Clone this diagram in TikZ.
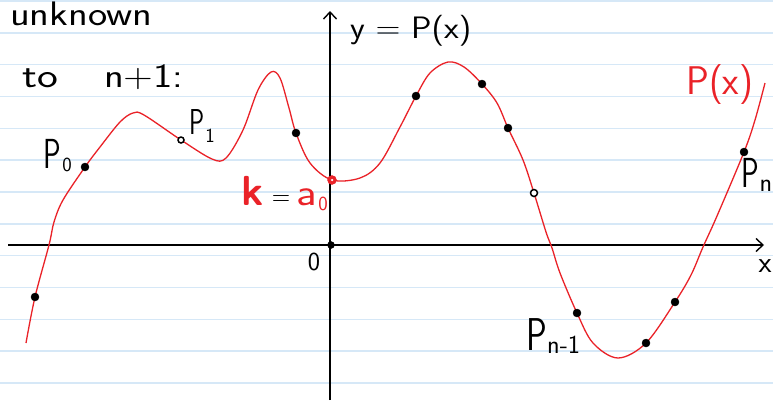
\documentclass[tikz,border=0pt]{standalone}
\usetikzlibrary{arrows.meta}
\definecolor{rule}{RGB}{214,232,247}
\definecolor{curvered}{RGB}{234,34,40}
\newcommand{\hwtext}[3]{\scalebox{#1}[1]{\fontsize{#2}{#2}\selectfont\sffamily #3}}
\tikzset{
  ruleline/.style={rule, line width=1.6pt},
  axisline/.style={black, line width=1.6pt, -{Straight Barb[length=7pt,width=13pt,line width=1.4pt]}},
  polycurve/.style={curvered, line width=1.3pt},
  dotmark/.style={circle, fill=black, draw=black, inner sep=0pt, minimum size=8pt},
  smalldot/.style={circle, fill=white, draw=black, line width=1.5pt, inner sep=0pt, minimum size=6pt},
  reddot/.style={circle, fill=curvered, draw=curvered, inner sep=0pt, minimum size=9pt},
  redcore/.style={circle, fill=white, inner sep=0pt, minimum size=2.5pt},
  lbl/.style={inner sep=0pt, anchor=center, text=black},
  rlbl/.style={inner sep=0pt, anchor=center, text=curvered},
}
\begin{document}
\begin{tikzpicture}[x=1pt,y=-1pt]
\useasboundingbox (0,0) rectangle (773,402);
\fill[white] (0,0) rectangle (773,402);
% ruled paper
\foreach \k in {0,...,12}{
  \draw[ruleline] (0,{1+31.83*\k}) -- (773,{1+31.83*\k});
}
% axes
\coordinate (xs) at (8,245);
\coordinate (xe) at (764,245);
\coordinate (ys) at (330,400);
\coordinate (ye) at (330,11);
\draw[axisline] (xs) -- (xe);
\draw[axisline] (ys) -- (ye);
% curve
\draw[polycurve] plot[smooth, tension=0.55] coordinates {
 (26,343) (35,297) (49,245) (54,222) (63,200) (85,167) (100,147) (120,122)
 (133,113) (144,115) (181,140) (212,159) (226,158) (243,130) (258,90) (271,72)
 (280,78) (289,108) (296,133) (310,163) (332,180) (360,178) (380,163) (400,127)
 (416,96) (430,73) (448,62) (464,67) (482,84) (497,103) (508,128) (523,160)
 (534,193) (546,232) (552,248) (560,273) (577,313) (593,343) (618,358) (646,343)
 (675,302) (691,275) (703,247) (717,216) (744,152) (755,120) (765,83)};
% points
\node[dotmark] (d1) at (35,297) {};
\node[dotmark] (p0) at (85,167) {};
\node[smalldot] (p1) at (181,140) {};
\node[dotmark] (d2) at (296,133) {};
\node[reddot] (k0) at (332,180) {};
\node[redcore] (k0c) at (332,180) {};
\node[dotmark, minimum size=7pt] (o) at (331,245) {};
\node[dotmark] (d3) at (416,96) {};
\node[dotmark] (d4) at (482,84) {};
\node[dotmark] (d5) at (508,128) {};
\node[smalldot, minimum size=7pt] (d6) at (534,193) {};
\node[dotmark] (pn1) at (577,313) {};
\node[dotmark] (d7) at (646,343) {};
\node[dotmark] (d8) at (675,302) {};
\node[dotmark] (pn) at (744,152) {};
% texts
\node[lbl, anchor=base west] (t1) at (10,25) {\hwtext{1.2}{34}{unknown}};
\node[lbl, anchor=base west] (t2) at (22,87) {\hwtext{1.3}{34}{to}};
\node[lbl, anchor=base west] (t3) at (104,87) {\hwtext{1.2}{34}{n+1:}};
\node[lbl, anchor=base west] (t4) at (350,38) {\hwtext{1.1}{31}{y = P(x)}};
\node[rlbl, anchor=base west] (t5) at (686,94) {\hwtext{0.95}{40}{P(x)}};
% P0
\node[lbl, anchor=base] (lp0) at (52,168) {\hwtext{0.7}{42}{P}};
\node[lbl, anchor=base] (lp0s) at (67,171) {\hwtext{1.0}{20}{0}};
% P1
\node[lbl, anchor=base] (lp1) at (197,134) {\hwtext{0.7}{36}{P}};
\node[lbl, anchor=base] (lp1s) at (210,142) {\hwtext{1.0}{20}{1}};
% k = a0
\node[rlbl, anchor=base] (lk) at (253,205) {\hwtext{1.0}{42}{\bfseries k}};
\node[lbl, anchor=base] (leq) at (281,205) {\hwtext{0.9}{28}{=}};
\node[rlbl, anchor=base] (la) at (307,205) {\hwtext{1.2}{38}{a}};
\node[rlbl, anchor=base] (las) at (323,210) {\hwtext{1.0}{20}{0}};
% origin and x
\node[lbl] (l0) at (314,262) {\hwtext{1.0}{26}{0}};
\node[lbl] (lx) at (765,266) {\hwtext{1.0}{30}{x}};
% Pn
\node[lbl, anchor=base] (lpn) at (750,187) {\hwtext{0.7}{42}{P}};
\node[lbl, anchor=base] (lpns) at (766,191) {\hwtext{1.0}{26}{n}};
% Pn-1
\node[lbl, anchor=base] (lpn1) at (537,350) {\hwtext{0.75}{46}{P}};
\node[lbl, anchor=base west] (lpn1s) at (547,353) {\hwtext{1.0}{26}{n-1}};
\end{tikzpicture}
\end{document}
